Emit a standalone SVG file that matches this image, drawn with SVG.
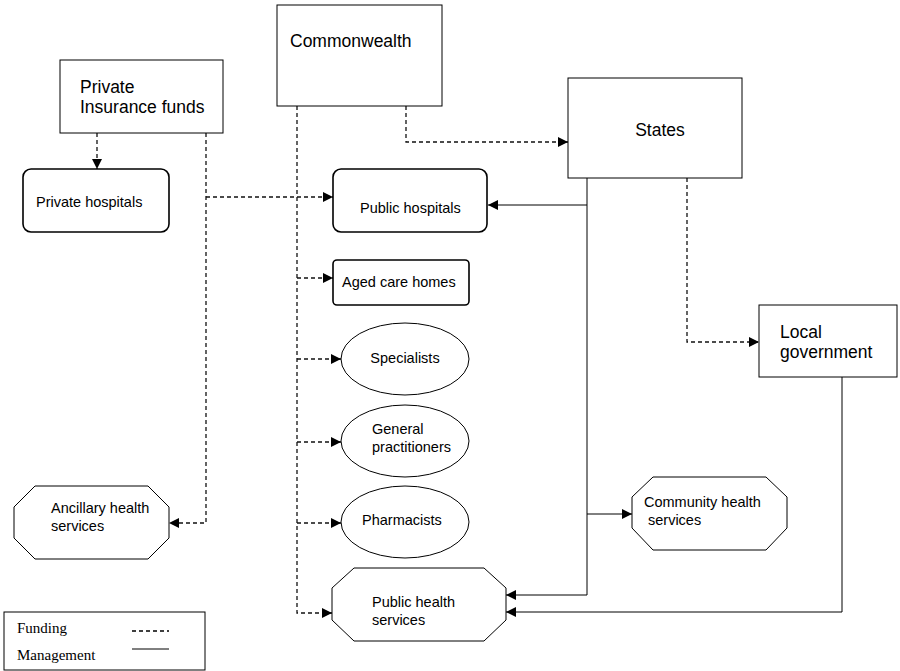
<svg xmlns="http://www.w3.org/2000/svg" width="900" height="671" viewBox="0 0 900 671">
<defs>
<marker id="ah" viewBox="0 0 10 10" refX="10" refY="5" markerWidth="11" markerHeight="10" markerUnits="userSpaceOnUse" orient="auto"><path d="M0,0 L10,5 L0,10 z" fill="#000"/></marker>
</defs>
<style>
.box{fill:#fff;stroke:#000;stroke-width:1}
.rbox{fill:#fff;stroke:#000;stroke-width:1.6}
.big{font-family:"Liberation Sans",Arial,sans-serif;font-size:17.5px;fill:#000}
.sm{font-family:"Liberation Sans",Arial,sans-serif;font-size:14.5px;fill:#000}
.ser{font-family:"Liberation Serif","Times New Roman",serif;font-size:15px;fill:#000}
.fund{fill:none;stroke:#111;stroke-width:1.3;stroke-dasharray:4,3}
.mgmt{fill:none;stroke:#000;stroke-width:1}
</style>
<g id="connectors">
<path class="fund" d="M97,133 V169" marker-end="url(#ah)"/>
<path class="fund" d="M206,133 V523 H169" marker-end="url(#ah)"/>
<path class="fund" d="M206,197 H333" marker-end="url(#ah)"/>
<path class="fund" d="M297,106 V613 H332" marker-end="url(#ah)"/>
<path class="fund" d="M297,278 H333" marker-end="url(#ah)"/>
<path class="fund" d="M297,359 H341" marker-end="url(#ah)"/>
<path class="fund" d="M297,442 H341" marker-end="url(#ah)"/>
<path class="fund" d="M297,523 H341" marker-end="url(#ah)"/>
<path class="fund" d="M406,106 V142 H568" marker-end="url(#ah)"/>
<path class="fund" d="M687,178 V342 H759" marker-end="url(#ah)"/>
<path class="mgmt" d="M587,178 V595 H506" marker-end="url(#ah)"/>
<path class="mgmt" d="M587,205 H488" marker-end="url(#ah)"/>
<path class="mgmt" d="M587,514 H632" marker-end="url(#ah)"/>
<path class="mgmt" d="M842,377 V612 H506" marker-end="url(#ah)"/>
</g>
<g id="private-insurance">
<rect class="box" x="60" y="60" width="163" height="73"/>
<text class="big" x="80" y="93">Private</text>
<text class="big" x="80" y="113">Insurance funds</text>
</g>
<g id="commonwealth">
<rect class="box" x="277" y="5" width="165" height="101"/>
<text class="big" x="290" y="47">Commonwealth</text>
</g>
<g id="states">
<rect class="box" x="568" y="78" width="174" height="100"/>
<text class="big" x="660" y="136" text-anchor="middle">States</text>
</g>
<g id="local-government">
<rect class="box" x="759" y="305" width="138" height="72"/>
<text class="big" x="780" y="338">Local</text>
<text class="big" x="780" y="358">government</text>
</g>
<g id="private-hospitals">
<rect class="rbox" x="23" y="169" width="146" height="63" rx="8"/>
<text class="sm" x="36" y="207">Private hospitals</text>
</g>
<g id="public-hospitals">
<rect class="rbox" x="333" y="169" width="154" height="63" rx="8"/>
<text class="sm" x="360" y="213">Public hospitals</text>
</g>
<g id="aged-care">
<rect class="rbox" x="333" y="260" width="136" height="45" rx="4"/>
<text class="sm" x="342" y="287">Aged care homes</text>
</g>
<g id="specialists">
<ellipse class="box" cx="405" cy="359" rx="64" ry="36"/>
<text class="sm" x="405" y="363" text-anchor="middle">Specialists</text>
</g>
<g id="gps">
<ellipse class="box" cx="405" cy="441" rx="64" ry="36"/>
<text class="sm" x="372" y="434">General</text>
<text class="sm" x="372" y="452">practitioners</text>
</g>
<g id="pharmacists">
<ellipse class="box" cx="405" cy="522" rx="64" ry="36"/>
<text class="sm" x="362" y="525">Pharmacists</text>
</g>
<g id="public-health">
<polygon class="box" points="354,568 484,568 506,588 506,620 484,641 354,641 332,620 332,588"/>
<text class="sm" x="372" y="607">Public health</text>
<text class="sm" x="372" y="625">services</text>
</g>
<g id="community-health">
<polygon class="box" points="653,477 766,477 787,497 787,528 766,550 653,550 632,528 632,497"/>
<text class="sm" x="644" y="507">Community health</text>
<text class="sm" x="648" y="525">services</text>
</g>
<g id="ancillary">
<polygon class="box" points="35,486 148,486 169,507 169,538 148,559 35,559 14,538 14,507"/>
<text class="sm" x="51" y="513">Ancillary health</text>
<text class="sm" x="51" y="531">services</text>
</g>
<g id="legend">
<rect class="box" x="4" y="612" width="201" height="58"/>
<text class="ser" x="17" y="633">Funding</text>
<text class="ser" x="17" y="660">Management</text>
<line x1="132" y1="631" x2="169" y2="631" stroke="#000" stroke-width="1.3" stroke-dasharray="4,3"/>
<line x1="132" y1="649" x2="169" y2="649" stroke="#000" stroke-width="1"/>
</g>
</svg>
